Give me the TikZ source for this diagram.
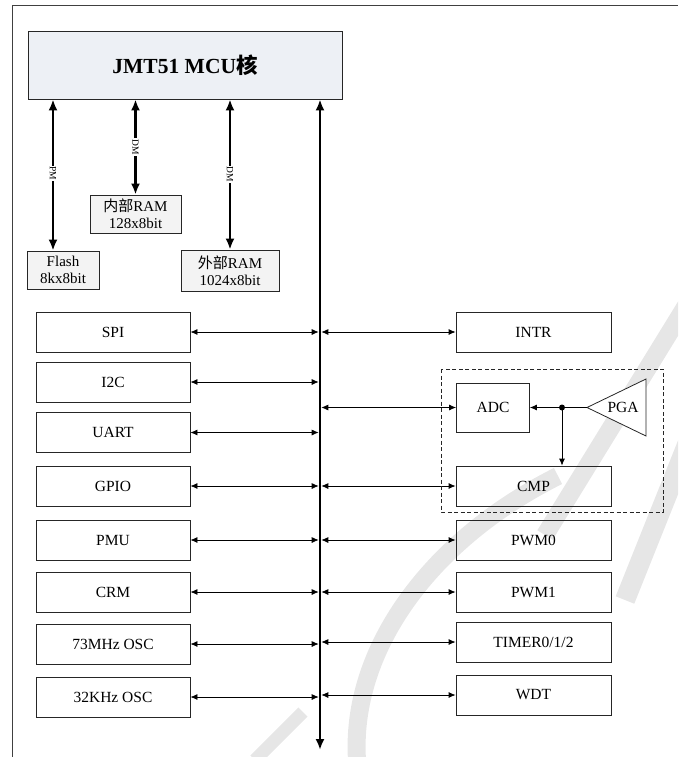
\documentclass[tikz,border=0pt]{standalone}
\usepackage{fontspec}
\setmainfont{Liberation Serif}
\newfontfamily\cjk{Noto Sans CJK SC}
\usetikzlibrary{arrows.meta,calc}
\definecolor{mcufill}{HTML}{EDF0F5}
\definecolor{memfill}{HTML}{F3F3F3}
\definecolor{wm}{HTML}{E6E6E6}
\tikzset{
  blk/.style={draw=black!85,line width=0.8pt,rectangle,inner sep=0pt,font=\fontsize{15.5}{17}\selectfont},
  lbox/.style={blk,minimum width=154pt,minimum height=40pt},
  rbox/.style={blk,minimum width=155pt,minimum height=40pt},
  mem/.style={blk,fill=memfill,align=center,font=\fontsize{15}{17}\selectfont},
  bigarrow/.style={line width=2.6pt,{Latex[length=11pt,width=9pt]}-{Latex[length=11pt,width=9pt]}},
  thinarrow/.style={line width=0.8pt,{Latex[length=7pt,width=6pt]}-{Latex[length=7pt,width=6pt]}},
  onearrow/.style={line width=0.8pt,-{Latex[length=7pt,width=6pt]}},
  buslbl/.style={fill=white,inner sep=1pt,rotate=-90,font=\fontsize{9.5}{9.5}\selectfont},
  wmark/.style={draw=wm,line width=18pt},
}
\begin{document}
\begin{tikzpicture}[x=1pt,y=-1pt]
\useasboundingbox (0,0) rectangle (678,757);
% watermark (background)
\begin{scope}
\clip (12,5) rectangle (678,757);
\draw[wmark] (692,296) -- (545,535);
\draw[wmark,line width=20pt] (695,425) -- (625,600);
\draw[wmark] (357,760) .. controls (350,650) and (430,540) .. (558,476);
\draw[wmark,line width=13pt] (255,760) -- (303,712);
\end{scope}
% frame
\draw[black!75,line width=0.8pt] (12,757) -- (12,5) -- (678,5);
% MCU core
\node[blk,fill=mcufill,minimum width=314pt,minimum height=68pt,font=\bfseries\fontsize{21.5}{23}\selectfont] (mcu) at (185,65) {JMT51 MCU{\cjk 核}};
% memories
\node[mem,minimum width=72pt,minimum height=38pt] (flash) at (63,270) {Flash\\8kx8bit};
\node[mem,minimum width=91pt,minimum height=38pt] (iram) at (135.5,214) {{\cjk 内部}RAM\\128x8bit};
\node[mem,minimum width=98pt,minimum height=41pt] (eram) at (230,270.5) {{\cjk 外部}RAM\\1024x8bit};
\coordinate (pmx) at (53,0);
\coordinate (busx) at (320,0);
\coordinate (busend) at (320,750);
\coordinate (busL) at (318.7,0);
\coordinate (busR) at (321.3,0);
\draw[bigarrow] (mcu.south -| pmx) -- node[buslbl,pos=0.49] (pm) {PM} (flash.north -| pmx);
\draw[bigarrow] (mcu.south -| iram.north) -- node[buslbl,pos=0.5] (dm1) {DM} (iram.north);
\draw[bigarrow] (mcu.south -| eram.north) -- node[buslbl,pos=0.5] (dm2) {DM} (eram.north);
\draw[bigarrow] (mcu.south -| busx) -- (busend);
% left peripherals
\node[lbox] (spi) at (113,332) {SPI};
\node[lbox] (i2c) at (113,382) {I2C};
\node[lbox] (uart) at (113,432.5) {UART};
\node[lbox] (gpio) at (113,486) {GPIO};
\node[lbox] (pmu) at (113,540) {PMU};
\node[lbox] (crm) at (113,592) {CRM};
\node[lbox] (osc73) at (113,644) {73MHz OSC};
\node[lbox] (osc32) at (113,697) {32KHz OSC};
\foreach \n in {spi,i2c,uart,gpio,pmu,crm,osc73,osc32}
  \draw[thinarrow] (\n.east) -- (\n.east -| busL);
% right peripherals
\node[rbox] (intr) at (533.5,332) {INTR};
\node[rbox] (cmp) at (533.5,486) {CMP};
\node[rbox] (pwm0) at (533.5,540) {PWM0};
\node[rbox] (pwm1) at (533.5,592) {PWM1};
\node[rbox] (timer) at (533.5,642) {TIMER0/1/2};
\node[rbox] (wdt) at (533.5,695) {WDT};
\node[blk,minimum width=73pt,minimum height=49pt] (adc) at (493,407.5) {ADC};
\foreach \n in {intr,adc,cmp,pwm0,pwm1,timer,wdt}
  \draw[thinarrow] (\n.west -| busR) -- (\n.west);
% analog group
\draw[black!85,line width=0.8pt,dashed,dash pattern=on 4pt off 2.5pt] (441,369) rectangle (663,512);
\draw[black!85,line width=0.8pt,fill=white] (587,407.5) -- (646,379) -- (646,436) -- cycle;
\node[font=\fontsize{15.5}{17}\selectfont,inner sep=0pt] (pga) at (623,407.5) {PGA};
\coordinate (pgain) at (587,407.5);
\coordinate (jn) at (562,407.5);
\draw[onearrow] (pgain) -- (adc.east);
\draw[onearrow] (jn) -- (jn |- cmp.north);
\fill (jn) circle (3pt);
\end{tikzpicture}
\end{document}
